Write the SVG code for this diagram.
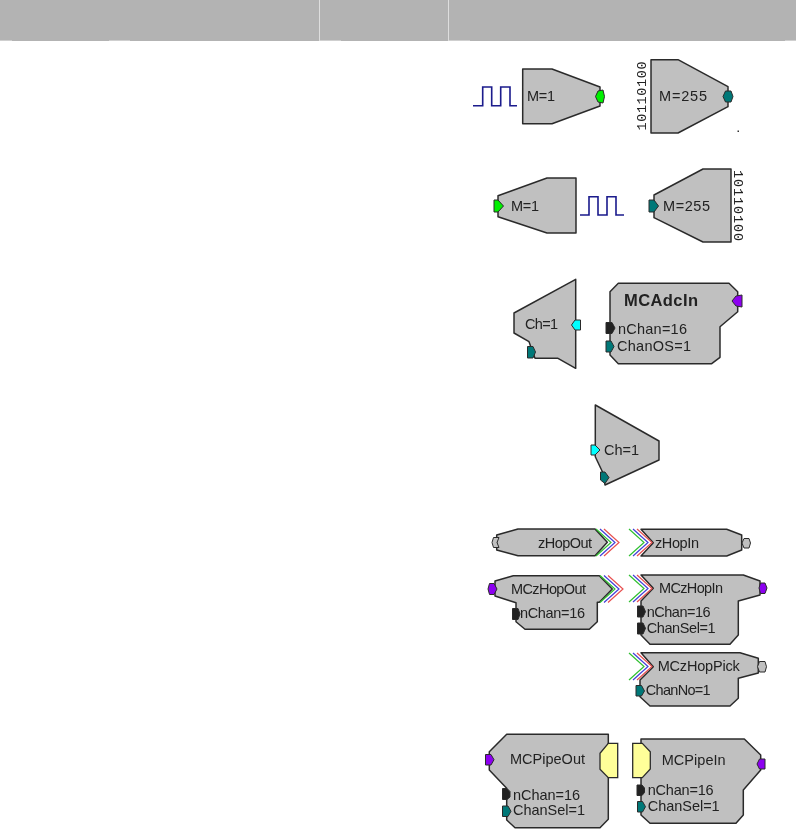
<svg xmlns="http://www.w3.org/2000/svg" width="796" height="839" viewBox="0 0 796 839">
<style>
text{font-family:"Liberation Sans",Arial,sans-serif;font-size:14.5px;fill:#222}
.t{font-weight:bold;font-size:16.5px}
.m{font-family:"Liberation Mono","Courier New",monospace;font-size:13.5px}
.b{fill:#c0c0c0;stroke:#2b2b2b;stroke-width:1.5;stroke-linejoin:round}
.y{fill:#ffff99;stroke:#2b2b2b;stroke-width:1.3}
.p{stroke:#2b2b2b;stroke-width:1}
.g{fill:#00f000}.c{fill:#00ffff}.e{fill:#007878}.k{fill:#222}.v{fill:#8c00f0}.h{fill:#c0c0c0}
.w{fill:none;stroke:#1a1a8c;stroke-width:1.6}
.cg,.cb,.cr{fill:none;stroke-width:1.2}
.cg{stroke:#30c030}.cb{stroke:#4040d8}.cr{stroke:#e85050}
</style>
<defs>
<filter id="s" x="-5%" y="-5%" width="110%" height="110%"><feGaussianBlur stdDeviation="0.3"/></filter>
<g id="chev"><path class="cg" d="M0 0L15 13.5L0 27"/><path class="cb" d="M4 0L19 13.5L4 27"/><path class="cr" d="M8 0L23 13.5L8 27"/></g>
</defs>
<g id="header">
<rect x="0" y="0" width="796" height="41" fill="#b3b3b3"/>
<path d="M319.5 0V41M448.5 0V41" stroke="#dedede" stroke-width="1"/>
<path d="M0 40.5H12M109 40.5H130M320 40.5H341M449 40.5H470M785 40.5H796" stroke="#cfcfcf" stroke-width="1"/>
</g>
<g id="connectors" filter="url(#s)">
<path class="w" d="M473 105.7H482.7V87H491.7V105.7H500.7V87H510V105.7H517"/>
<path class="w" d="M580 215H589V196.7H598V215H607V196.7H616V215H624"/>
</g>
<g filter="url(#s)">
<g id="m1-out">
<polygon class="b" points="522.7,69 552,69 600,87 600,106 552,123.7 522.7,123.7"/>
<polygon class="p g" points="595.5,96.5 598,91 603,90 604.5,96.5 603,103 598,102"/>
<text x="527" y="101" textLength="28">M=1</text>
</g>
<g id="m255-out">
<polygon class="b" points="651,59.7 678,59.7 728,86.7 728,106.7 678,133 651,133"/>
<polygon class="p e" points="723,96.5 725.5,91 731,91 733,96.5 731,102 725.5,102"/>
<text x="659" y="101" textLength="48">M=255</text>
<text class="m" transform="translate(645.5,130.5) rotate(-90)" textLength="69">10110100</text>
<rect x="737.5" y="130.5" width="1.5" height="1.5" fill="#333"/>
</g>
<g id="m1-in">
<polygon class="b" points="498,195.7 547,178 576,178 576,233 547,233 498,216.7"/>
<polygon class="p g" points="494,200 498,200 503.5,206 498,212 494,212"/>
<text x="511" y="211" textLength="28">M=1</text>
</g>
<g id="m255-in">
<polygon class="b" points="654,195 703,169 731,169 731,242 703,242 654,217.7"/>
<polygon class="p e" points="649,200 654,200 658.5,206 654,212 649,212"/>
<text x="663" y="211" textLength="47">M=255</text>
<text class="m" transform="translate(734,170) rotate(90)" textLength="71">10110100</text>
</g>
<g id="ch1-a">
<polygon class="b" points="575.7,279.3 514,313 514,333 529,341.7 535,358.3 558,358.3 575.7,368.3"/>
<polygon class="p c" points="571.5,325 575,320 580.5,320 580.5,330 575,330"/>
<polygon class="p e" points="527.5,346.5 533,346.5 535.5,352 533,358 527.5,358"/>
<text x="525" y="329" textLength="33">Ch=1</text>
</g>
<g id="mcadcin">
<polygon class="b" points="618.3,283.3 729,283.3 737.7,291.7 737.7,311.7 720,326.7 720,357.3 711.7,363.7 618.3,363.7 610,355 610,291.7"/>
<polygon class="p v" points="732,301 736,296 742,295 742,307 736,306"/>
<polygon class="p k" points="606,322.5 612,322.5 615,328 612,333.5 606,333.5"/>
<polygon class="p e" points="606,341 611,341 614,346.5 611,352 606,352"/>
<text class="t" x="624" y="306" textLength="74">MCAdcIn</text>
<text x="618" y="334" textLength="69">nChan=16</text>
<text x="617" y="351" textLength="74">ChanOS=1</text>
</g>
<g id="ch1-b">
<polygon class="b" points="595.3,405 659,441 659,460 605,485 603,473 595.3,456.7"/>
<polygon class="p c" points="591,445 595,445 600,450 595,455 591,455"/>
<polygon class="p e" points="600.5,472 605,472 609,477.5 605,483.5 600.5,480"/>
<text x="604" y="455" textLength="35">Ch=1</text>
</g>
<g id="zhopout">
<polygon class="b" points="496.7,535 518,529 595,529 607.3,542.3 595,555.7 518,555.7 496.7,550"/>
<polygon class="p h" points="492,542.5 493.5,537.5 499,537.5 497,542.5 499,547.5 493.5,547.5"/>
<text x="538" y="547.5" textLength="54">zHopOut</text>
<use href="#chev" x="596" y="529"/>
</g>
<g id="zhopin">
<polygon class="b" points="641,529.3 726.7,529.3 741.7,535 741.7,550 726.7,556 641,556 653.3,542.7"/>
<polygon class="p h" points="742,543 744,538.5 749,538.5 750.5,543 749,548 744,548"/>
<text x="655" y="548" textLength="44">zHopIn</text>
<use href="#chev" x="629" y="529"/>
</g>
<g id="mczhopout">
<polygon class="b" points="495,581 513.3,575.7 599.3,575.7 612.3,589 599.3,602.3 597.3,602.3 597.3,621.7 589.3,629.3 525,629.3 516,621.7 516,602.7 495,596"/>
<polygon class="p v" points="488,589 489.5,583.5 494,583.5 497,589 494,594.5 489.5,594.5"/>
<polygon class="p k" points="512.5,608.5 518,608.5 520,614 518,619.5 512.5,619.5"/>
<text x="511" y="594" textLength="75">MCzHopOut</text>
<text x="520" y="618" textLength="65">nChan=16</text>
<use href="#chev" x="600" y="575.5"/>
</g>
<g id="mczhopin">
<polygon class="b" points="641,575 743.3,575 760,581 760,595 738.3,601 738.3,635 730,644.3 650,644.3 641,635 641,601 653.3,588.3"/>
<polygon class="p v" points="759,588 760.5,583 765,583 767,588 765,593.5 760.5,593.5"/>
<polygon class="p k" points="637.5,606 643,606 645.5,611.7 643,617 637.5,617"/>
<polygon class="p k" points="637.5,623 643,623 645.5,628.3 643,634 637.5,634"/>
<text x="659" y="592.7" textLength="64">MCzHopIn</text>
<text x="646.7" y="616.7" textLength="64">nChan=16</text>
<text x="646.7" y="632.7" textLength="69">ChanSel=1</text>
<use href="#chev" x="629" y="575"/>
</g>
<g id="mczhoppick">
<polygon class="b" points="641,652.7 740,652.7 758.3,658.3 758.3,673 738.3,678.3 738.3,698.3 730,706 650,706 640,696.7 640,680 653.3,666.7"/>
<polygon class="p h" points="757.5,666.7 759.5,661.5 765,661.5 766.5,666.7 765,672 759.5,672"/>
<polygon class="p e" points="636,685.5 641.5,685.5 644.5,691 641.5,696 636,696"/>
<text x="657.7" y="670.7" textLength="82">MCzHopPick</text>
<text x="645.7" y="695" textLength="65">ChanNo=1</text>
<use href="#chev" x="629" y="653"/>
</g>
<g id="mcpipeout">
<polygon class="b" points="506.7,734.3 608.3,734.3 608.3,819.3 600,827.7 515,827.7 506.7,820 506.7,788.3 489.3,770 489.3,751.7"/>
<polygon class="y" points="617.7,743.3 617.7,777.7 608.3,777.7 600,769.3 600,753.3 608.3,743.3"/>
<polygon class="p v" points="485.5,754.5 491,754.5 494,759.7 491,765 485.5,765"/>
<polygon class="p k" points="502.5,788.5 507,788.5 510,791.5 510,797 507,799.5 502.5,799.5"/>
<polygon class="p e" points="502.5,806 508,806 511,811.3 508,816.5 502.5,816.5"/>
<text x="510" y="764" textLength="75">MCPipeOut</text>
<text x="513" y="799.7" textLength="67">nChan=16</text>
<text x="513" y="815.3" textLength="72">ChanSel=1</text>
</g>
<g id="mcpipein">
<polygon class="b" points="641.7,739 744.3,739 760.7,755 760.7,770 743.3,790 743.3,815 736,823.3 650,823.3 641,815 641,739"/>
<polygon class="y" points="632.7,743.3 642.3,743.3 650.3,751.7 650.3,769 642.3,777.7 632.7,777.7"/>
<polygon class="p v" points="757,764 759.5,759 765,759 765,769 759.5,769"/>
<polygon class="p k" points="637,785 642,785 644.5,788 644.5,792.5 642,795.5 637,795.5"/>
<polygon class="p e" points="637.5,801.5 642.5,801.5 645.5,806.7 642.5,812 637.5,812"/>
<text x="661.7" y="765" textLength="64">MCPipeIn</text>
<text x="647.7" y="795" textLength="66">nChan=16</text>
<text x="647.7" y="810.7" textLength="72">ChanSel=1</text>
</g>
</g>
</svg>
